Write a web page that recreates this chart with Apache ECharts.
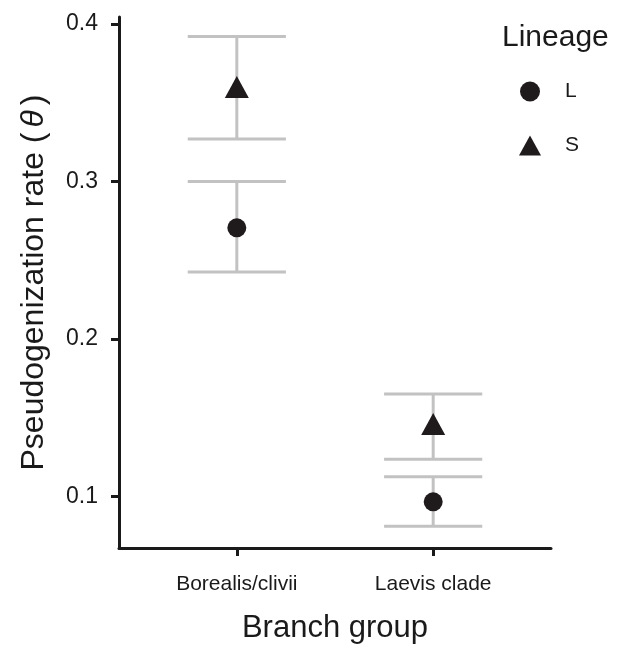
<!DOCTYPE html>
<html><head><meta charset="utf-8">
<script src="https://cdn.jsdelivr.net/npm/echarts@6/dist/echarts.min.js"></script>
<style>html,body{margin:0;padding:0;background:#fff}#c{width:619px;height:649px}</style>
</head><body><div id="c"></div>
<script>
const categories = ['Borealis/clivii', 'Laevis clade'];
const lineages = ['L', 'S'];
const L_mean = [0.2705, 0.0965];
const L_low = [0.2425, 0.081];
const L_high = [0.300, 0.1124];
const S_mean = [0.360, 0.146];
const S_low = [0.327, 0.1236];
const S_high = [0.392, 0.165];
const yTicks = [0.1, 0.2, 0.3, 0.4];

const font = 'Liberation Sans, Arial, Helvetica, sans-serif';
const pos = categories.map((c, i) => i + 1);

function errData(low, high) {
  return pos.map((p, i) => [p, low[i], high[i]]);
}
function renderErr(params, api) {
  const x = api.value(0);
  const lo = api.coord([x, api.value(1)]);
  const hi = api.coord([x, api.value(2)]);
  const l = api.coord([x - 0.25, api.value(1)]);
  const r = api.coord([x + 0.25, api.value(1)]);
  const half = (r[0] - l[0]) / 2;
  const st = { stroke: '#c2c2c2', lineWidth: 3, fill: null };
  return {
    type: 'group',
    children: [
      { type: 'line', shape: { x1: lo[0], y1: lo[1], x2: hi[0], y2: hi[1] }, style: st },
      { type: 'line', shape: { x1: lo[0] - half, y1: lo[1], x2: lo[0] + half, y2: lo[1] }, style: st },
      { type: 'line', shape: { x1: hi[0] - half, y1: hi[1], x2: hi[0] + half, y2: hi[1] }, style: st }
    ]
  };
}

const chart = echarts.init(document.getElementById('c'), null, { renderer: 'canvas' });
chart.setOption({
  animation: false,
  backgroundColor: '#fff',
  grid: { left: 119, right: 68, top: 17, bottom: 98, containLabel: false },
  title: {
    text: 'Lineage', left: 497, top: 18,
    textStyle: { fontFamily: font, fontSize: 30, fontWeight: 'normal', color: '#1a1a1a' }
  },
  legend: {
    orient: 'vertical', left: 514, top: 76,
    itemWidth: 22, itemHeight: 20, itemGap: 33,
    data: [{ name: 'L', icon: 'circle' }, { name: 'S', icon: 'triangle' }],
    textStyle: { fontFamily: font, fontSize: 21, color: '#1a1a1a', padding: [0, 0, 0, 19] }
  },
  xAxis: {
    type: 'value', min: 0.4, max: 2.6,
    name: 'Branch group', nameLocation: 'middle', nameGap: 65,
    nameTextStyle: { fontFamily: font, fontSize: 31, color: '#1a1a1a' },
    splitLine: { show: false },
    axisLine: { show: true, onZero: false, lineStyle: { color: '#1a1a1a', width: 3 } },
    axisTick: { show: true, customValues: pos, length: 8, lineStyle: { color: '#1a1a1a', width: 3 } },
    axisLabel: {
      customValues: pos, margin: 26,
      formatter: v => categories[Math.round(v) - 1] || '',
      fontFamily: font, fontSize: 21, color: '#1a1a1a'
    }
  },
  yAxis: {
    type: 'value', min: 0.0672, max: 0.4044,
    name: '{a|Pseudogenization rate (}{b|θ}{a|)}', nameLocation: 'middle', nameGap: 69,
    nameTextStyle: {
      fontFamily: font, fontSize: 32, color: '#1a1a1a',
      rich: {
        a: { fontFamily: font, fontSize: 32, color: '#1a1a1a' },
        b: { fontFamily: font, fontSize: 32, fontStyle: 'italic', color: '#1a1a1a', padding: [0, 5, 0, 5] }
      }
    },
    splitLine: { show: false },
    axisLine: { show: true, onZero: false, lineStyle: { color: '#1a1a1a', width: 3 } },
    axisTick: { show: true, customValues: yTicks, length: 8, lineStyle: { color: '#1a1a1a', width: 3 } },
    axisLabel: {
      customValues: yTicks, margin: 21,
      formatter: v => v.toFixed(1),
      fontFamily: font, fontSize: 23, color: '#1a1a1a'
    }
  },
  series: [
    { type: 'custom', name: 'errL', renderItem: renderErr, data: errData(L_low, L_high), z: 1, silent: true },
    { type: 'custom', name: 'errS', renderItem: renderErr, data: errData(S_low, S_high), z: 1, silent: true },
    {
      type: 'scatter', name: 'L', symbol: 'circle', symbolSize: 19, z: 3,
      itemStyle: { color: '#1f1a1c', opacity: 1 },
      data: pos.map((p, i) => [p, L_mean[i]])
    },
    {
      type: 'scatter', name: 'S', symbol: 'triangle', symbolSize: [24, 22], z: 3,
      itemStyle: { color: '#1f1a1c', opacity: 1 },
      data: pos.map((p, i) => [p, S_mean[i]])
    }
  ]
});
</script></body></html>
